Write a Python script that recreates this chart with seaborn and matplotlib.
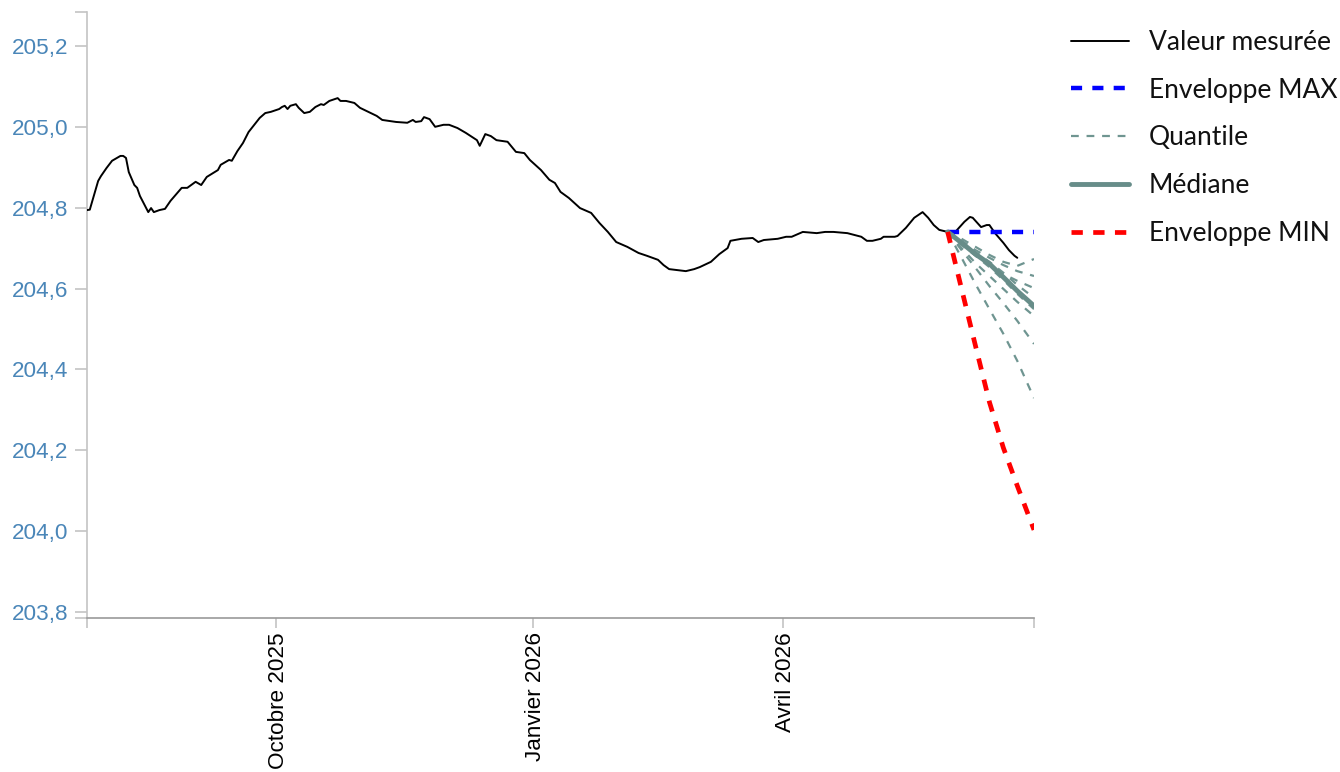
import matplotlib
matplotlib.use("Agg")
import matplotlib.pyplot as plt
import matplotlib.transforms as mtransforms
from matplotlib.ticker import FuncFormatter, NullFormatter
import pandas as pd
import seaborn as sns

# Measured level (m)
measured_dates = [
    "2025-07-25", "2025-07-26", "2025-07-29", "2025-07-30", "2025-08-01", "2025-08-03", "2025-08-06",
    "2025-08-07", "2025-08-08", "2025-08-09", "2025-08-11", "2025-08-12", "2025-08-13",
    "2025-08-16", "2025-08-17", "2025-08-18", "2025-08-20", "2025-08-22", "2025-08-24",
    "2025-08-28", "2025-08-30", "2025-09-02", "2025-09-04", "2025-09-06", "2025-09-10",
    "2025-09-11", "2025-09-14", "2025-09-15", "2025-09-17", "2025-09-19", "2025-09-21",
    "2025-09-25", "2025-09-27", "2025-09-29", "2025-10-02", "2025-10-03", "2025-10-04",
    "2025-10-05", "2025-10-06", "2025-10-08", "2025-10-09", "2025-10-11", "2025-10-13",
    "2025-10-15", "2025-10-17", "2025-10-18", "2025-10-20", "2025-10-23", "2025-10-24",
    "2025-10-26", "2025-10-29", "2025-10-31", "2025-11-03", "2025-11-06", "2025-11-08",
    "2025-11-13", "2025-11-17", "2025-11-19", "2025-11-20", "2025-11-22", "2025-11-23",
    "2025-11-25", "2025-11-27", "2025-11-30", "2025-12-02", "2025-12-05", "2025-12-08",
    "2025-12-12", "2025-12-13", "2025-12-15", "2025-12-17", "2025-12-19", "2025-12-23",
    "2025-12-26", "2025-12-29", "2025-12-31", "2026-01-04", "2026-01-07", "2026-01-09",
    "2026-01-11", "2026-01-14", "2026-01-18", "2026-01-22", "2026-01-25", "2026-01-28",
    "2026-01-31", "2026-02-04", "2026-02-08", "2026-02-11", "2026-02-15", "2026-02-17",
    "2026-02-19", "2026-02-25", "2026-02-28", "2026-03-02", "2026-03-06", "2026-03-09",
    "2026-03-12", "2026-03-13", "2026-03-17", "2026-03-21", "2026-03-23", "2026-03-25",
    "2026-03-30", "2026-04-02", "2026-04-04", "2026-04-08", "2026-04-13", "2026-04-16",
    "2026-04-19", "2026-04-24", "2026-04-29", "2026-05-01", "2026-05-03", "2026-05-06",
    "2026-05-07", "2026-05-11", "2026-05-12", "2026-05-15", "2026-05-18", "2026-05-21",
    "2026-05-23", "2026-05-25", "2026-05-27", "2026-05-30", "2026-06-02", "2026-06-05",
    "2026-06-07", "2026-06-08", "2026-06-11", "2026-06-13", "2026-06-14", "2026-06-16",
    "2026-06-19", "2026-06-21", "2026-06-23", "2026-06-24",
]
measured_values = [
    204.794, 204.795, 204.866, 204.878, 204.898, 204.916, 204.928,
    204.928, 204.923, 204.888, 204.856, 204.849, 204.829,
    204.789, 204.799, 204.789, 204.794, 204.797, 204.817,
    204.849, 204.849, 204.864, 204.856, 204.876, 204.893,
    204.906, 204.918, 204.916, 204.940, 204.960, 204.987,
    205.022, 205.034, 205.037, 205.044, 205.049, 205.052,
    205.044, 205.052, 205.056, 205.047, 205.034, 205.037,
    205.049, 205.056, 205.054, 205.064, 205.071, 205.064,
    205.064, 205.059, 205.047, 205.037, 205.027, 205.017,
    205.012, 205.010, 205.017, 205.012, 205.014, 205.024,
    205.019, 205.000, 205.005, 205.005, 204.997, 204.985,
    204.967, 204.953, 204.982, 204.977, 204.967, 204.963,
    204.938, 204.935, 204.918, 204.893, 204.869, 204.861,
    204.839, 204.824, 204.799, 204.787, 204.762, 204.740,
    204.715, 204.703, 204.688, 204.681, 204.671, 204.658,
    204.648, 204.643, 204.648, 204.653, 204.666, 204.685,
    204.700, 204.718, 204.723, 204.725, 204.715, 204.720,
    204.723, 204.728, 204.728, 204.740, 204.737, 204.740,
    204.740, 204.737, 204.728, 204.718, 204.718, 204.723,
    204.728, 204.728, 204.730, 204.750, 204.775, 204.789,
    204.775, 204.757, 204.745, 204.740, 204.742, 204.765,
    204.777, 204.775, 204.752, 204.757, 204.757, 204.737,
    204.713, 204.695, 204.681, 204.676,
]

# Forecast issued on 2026-05-30
forecast_dates = ["2026-05-30", "2026-06-04", "2026-06-09", "2026-06-14",
                  "2026-06-19", "2026-06-24", "2026-06-30"]
envelope_max = [204.741, 204.741, 204.741, 204.741, 204.741, 204.741, 204.741]
envelope_min = [204.740, 204.599, 204.458, 204.319, 204.206, 204.112, 204.003]
median_values = [204.740, 204.713, 204.685, 204.661, 204.628, 204.594, 204.557]
quantile_values = [
    [204.740, 204.723, 204.703, 204.683, 204.666, 204.656, 204.673],
    [204.740, 204.718, 204.695, 204.676, 204.658, 204.643, 204.631],
    [204.740, 204.710, 204.683, 204.658, 204.636, 204.619, 204.601],
    [204.740, 204.715, 204.690, 204.666, 204.639, 204.609, 204.577],
    [204.740, 204.708, 204.681, 204.653, 204.621, 204.587, 204.549],
    [204.740, 204.700, 204.663, 204.631, 204.599, 204.567, 204.532],
    [204.740, 204.695, 204.651, 204.606, 204.564, 204.520, 204.463],
    [204.740, 204.676, 204.611, 204.549, 204.488, 204.421, 204.329],
]

y_ticks = [203.8, 204.0, 204.2, 204.4, 204.6, 204.8, 205.0, 205.2]
x_tick_dates = ["2025-10-01", "2026-01-01", "2026-04-01"]
x_tick_labels = ["Octobre 2025", "Janvier 2026", "Avril 2026"]
x_range = ["2025-07-25", "2026-06-30"]
y_range = [203.785, 205.284]

sns.set_theme(style="white")
plt.rcParams["font.family"] = ["Liberation Sans", "DejaVu Sans"]

fig = plt.figure(figsize=(13.4, 7.72), dpi=100)
ax = fig.add_axes([87 / 1340, 1 - 618 / 772, (1034 - 87) / 1340, (618 - 12) / 772])

m_dates = pd.to_datetime(measured_dates)
f_dates = pd.to_datetime(forecast_dates)

quant_color = "#6f9591"
median_color = "#678d89"

sns.lineplot(x=m_dates, y=measured_values, ax=ax, color="black", linewidth=1.4,
             label="Valeur mesurée", zorder=3)
sns.lineplot(x=f_dates, y=envelope_max, ax=ax, color="#0000ff", linewidth=3.2,
             linestyle=(0, (2.5, 2.3)), label="Enveloppe MAX", zorder=4)
for i, q in enumerate(quantile_values):
    sns.lineplot(x=f_dates, y=q, ax=ax, color=quant_color, linewidth=1.6,
                 linestyle=(0, (3.5, 3.5)),
                 label="Quantile" if i == 0 else "_nolegend_", zorder=4)
sns.lineplot(x=f_dates, y=median_values, ax=ax, color=median_color, linewidth=3.5,
             label="Médiane", zorder=5)
sns.lineplot(x=f_dates, y=envelope_min, ax=ax, color="#ff0000", linewidth=3.4,
             linestyle=(0, (2.4, 2.2)), label="Enveloppe MIN", zorder=6)

leg = ax.get_legend()
if leg is not None:
    leg.remove()

ax.set_xlim(pd.to_datetime(x_range[0]), pd.to_datetime(x_range[1]))
ax.set_ylim(*y_range)

# Axes styling
for side in ("top", "right"):
    ax.spines[side].set_visible(False)
ax.spines["left"].set_color("#c4c4c4")
ax.spines["bottom"].set_color("#9a9a9a")
ax.spines["left"].set_linewidth(1.2)
ax.spines["bottom"].set_linewidth(1.2)

ax.set_yticks(y_ticks)
ax.yaxis.set_major_formatter(FuncFormatter(lambda v, _: f"{v:.1f}".replace(".", ",")))
ax.set_yticks(y_range, minor=True)
ax.yaxis.set_minor_formatter(NullFormatter())

ax.set_xticks(pd.to_datetime(x_tick_dates))
ax.set_xticklabels(x_tick_labels, rotation=90, va="top", ha="center")
ax.set_xticks(pd.to_datetime(x_range), minor=True)
ax.xaxis.set_minor_formatter(NullFormatter())

ax.tick_params(axis="y", which="both", left=True, length=8.6, width=1.2, color="#c4c4c4",
               labelsize=16.2, labelcolor="#4a86b8", pad=5)
ax.tick_params(axis="x", which="both", bottom=True, length=7.2, width=1.2, color="#c4c4c4",
               labelsize=16.2, labelcolor="black", pad=3)

# nudge the rotated month labels slightly to the right of their ticks
shift = mtransforms.ScaledTranslation(2.5 / 100, 0, fig.dpi_scale_trans)
for lbl in ax.get_xticklabels():
    lbl.set_transform(lbl.get_transform() + shift)

ax.set_xlabel("")
ax.set_ylabel("")
ax.grid(False)

handles, labels = ax.get_legend_handles_labels()
fig.legend(handles, labels, loc="upper left", bbox_to_anchor=(1071 / 1340, 1 - 30 / 772),
           frameon=False, prop={"family": ["Lato", "DejaVu Sans"], "size": 19},
           handlelength=2.2, handletextpad=0.75, labelspacing=0.86,
           borderpad=0, borderaxespad=0, labelcolor="#111111")

fig.savefig("out.png", dpi=100, facecolor="white")
